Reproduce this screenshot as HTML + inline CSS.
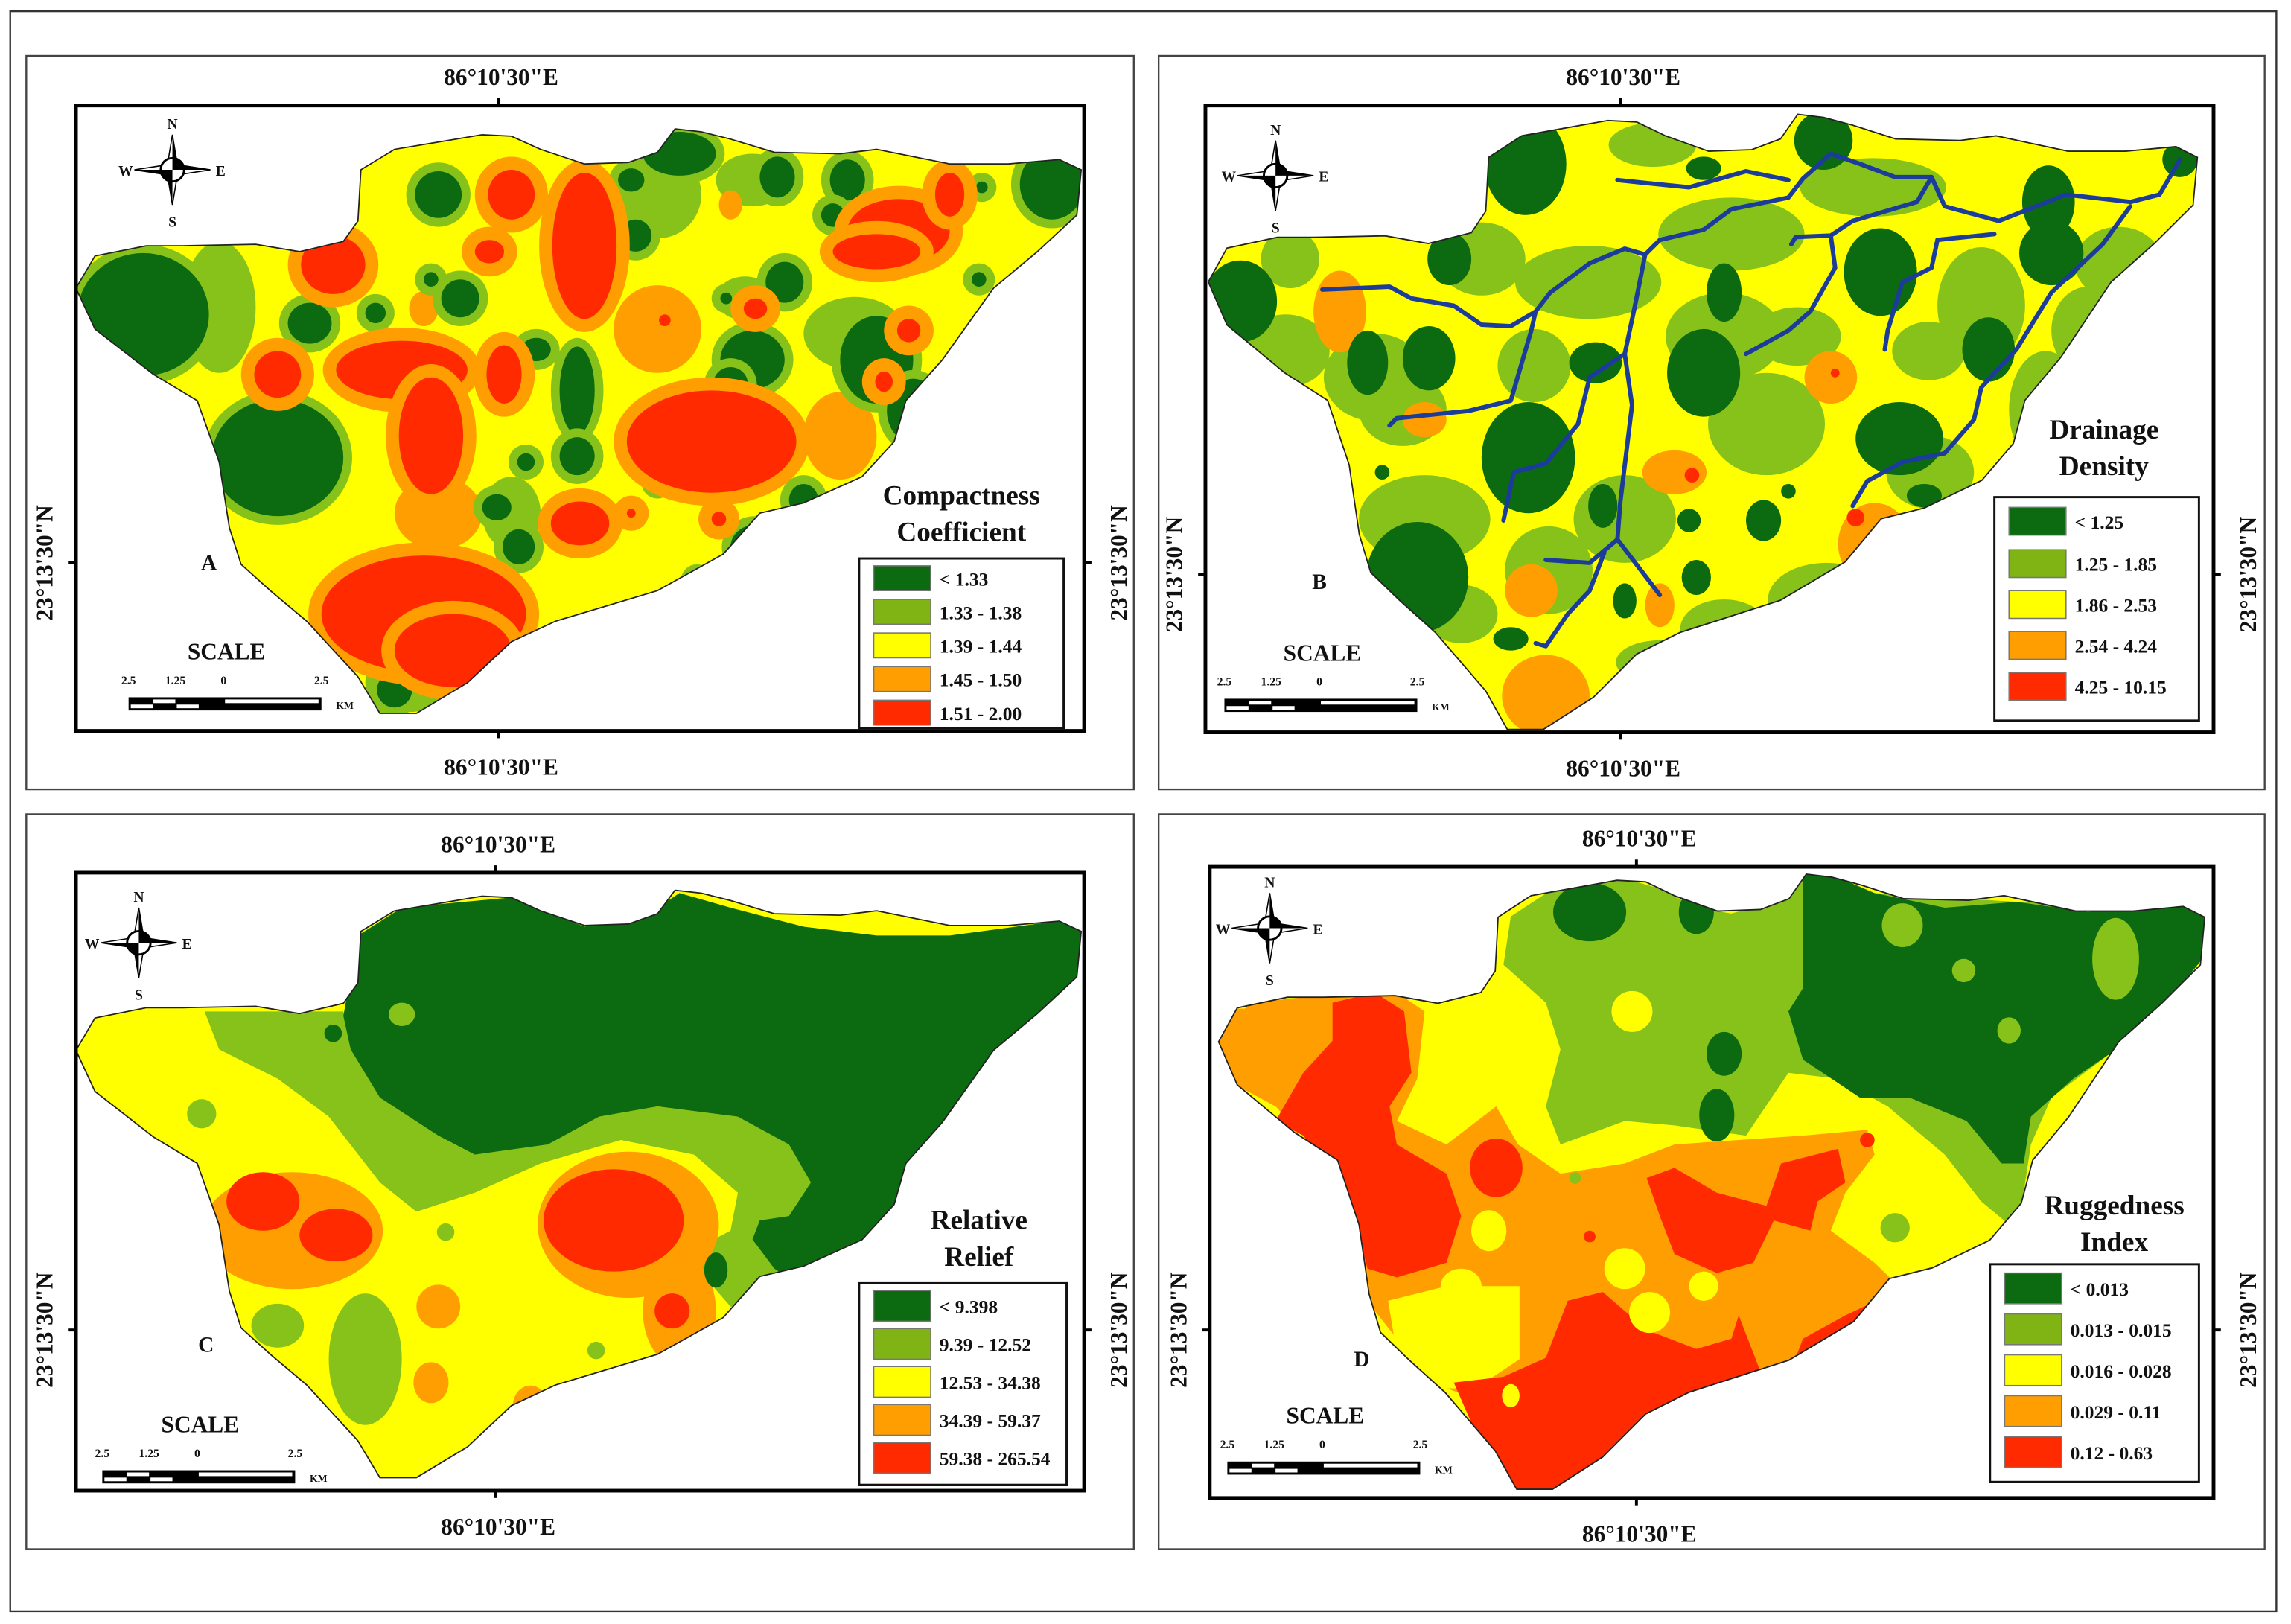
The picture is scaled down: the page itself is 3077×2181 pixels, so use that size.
<!DOCTYPE html>
<html><head><meta charset="utf-8"><style>
html,body{margin:0;padding:0;background:#fff;}
svg{display:block;}
text{font-family:"Liberation Serif",serif;font-weight:bold;fill:#111;}
</style></head><body>
<svg id="fig" width="3077" height="2181" viewBox="0 0 1568 1111" xmlns="http://www.w3.org/2000/svg">
<rect x="0" y="0" width="1568" height="1111" fill="#fff"/>
<rect x="7" y="7.5" width="1551" height="1095" fill="none" stroke="#333" stroke-width="1.2"/>
<defs>
<path id="basin" d="M52,197 L65,175 L100,168 L125,168 L175,167 L205,172 L235,165 L245,151 L247,116 L270,102 L300,97 L330,92 L350,93 L370,102 L400,112 L430,111 L450,104 L462,88 L480,90 L500,95 L530,104 L575,105 L600,102 L625,107 L650,112 L690,112 L725,109 L740,116 L737,147 L710,172 L680,197 L665,218 L645,246 L620,274 L612,302 L590,326 L550,344 L520,351 L495,379 L450,404 L380,425 L350,439 L320,467 L285,488 L260,488 L245,463 L210,425 L185,404 L165,386 L157,361 L150,316 L135,274 L105,256 L65,225 Z"/>
<clipPath id="clipA"><use href="#basin"/></clipPath>
<clipPath id="clipB"><use href="#basin" transform="translate(775.8,-14.6) scale(0.984,1.0525)"/></clipPath>
<clipPath id="clipC"><use href="#basin" transform="translate(0,520.6) scale(1,1.005)"/></clipPath>
<clipPath id="clipD"><use href="#basin" transform="translate(783,505.4) scale(0.981,1.0525)"/></clipPath>
</defs>
<g id="panels"></g>
</svg>
<script>
const NS='http://www.w3.org/2000/svg';
const C={G:'#0c6a10',L:'#86c21a',Y:'#ffff00',O:'#ff9e00',R:'#ff2a00'};
const legendColors=['#0c6a10','#7fb414','#ffff00','#ff9e00','#ff2a00'];
const legendA=['< 1.33','1.33 - 1.38','1.39 - 1.44','1.45 - 1.50','1.51 - 2.00'];
const legendB=['< 1.25','1.25 - 1.85','1.86 - 2.53','2.54 - 4.24','4.25 - 10.15'];
const legendC=['< 9.398','9.39 - 12.52','12.53 - 34.38','34.39 - 59.37','59.38 - 265.54'];
const legendD=['< 0.013','0.013 - 0.015','0.016 - 0.028','0.029 - 0.11','0.12 - 0.63'];

const blobsA=[
['L',150,210,25,45],['L',450,133,30,30],['L',515,123,25,18],['L',585,228,35,25],['L',550,380,25,20],['L',350,351,20,25],['L',280,467,30,20],['L',510,204,20,15],
['O',300,351,30,25],['O',575,298,25,30],['O',500,140,8,10],['O',290,211,10,12],['O',450,225,30,30],
['G',98,215,45,42],['G',190,313,45,40],['G',300,133,16,16],['G',315,204,13,13],['G',212,221,15,14],['G',257,214,7,7],['G',295,191,5,5],['G',432,123,9,8],['G',435,161,11,11],['G',465,105,25,15],['G',532,121,12,14],['G',580,123,12,14],['G',570,147,8,8],['G',720,126,22,24],['G',537,193,13,14],['G',515,246,22,20],['G',500,263,12,12],['G',600,246,25,30],['G',625,281,18,22],['G',367,239,10,8],['G',395,267,12,30],['G',395,312,12,13],['G',360,316,6,6],['G',340,347,10,9],['G',355,374,11,12],['G',550,342,10,11],['G',517,374,17,15],['G',477,397,5,5],['G',297,426,5,5],['G',270,472,12,12],['G',450,330,5,5],['G',670,191,5,5],['G',672,128,4,4],['G',497,204,4,4],
['R',228,181,22,20],['R',190,256,16,16],['R',350,133,16,17],['R',335,172,10,8],['R',400,168,22,50],['R',275,253,45,20],['R',295,298,22,40],['R',345,256,12,20],['R',487,302,58,35],['R',397,358,20,15],['R',615,158,35,22],['R',600,172,30,12],['R',650,133,10,15],['R',517,211,8,7],['R',622,226,8,8],['R',605,261,6,7],['R',455,219,4,4],['R',492,355,5,5],['R',432,351,3,3],['R',290,420,70,40],['R',310,445,40,25]
];
const blobsB=[
['L',1180,230,40,30],['L',960,280,30,25],['L',1050,250,25,25],['L',1250,410,40,25],['L',1400,280,25,40],['L',1060,390,30,30],['L',1450,180,30,25],['L',880,240,30,25],['L',1180,430,30,20],['L',1320,240,25,20],
['L',1087,193,50,25],['L',1185,160,50,25],['L',1282,128,50,20],['L',1209,290,40,35],['L',975,355,45,30],['L',1112,355,35,30],['L',1356,209,30,40],['L',1429,226,25,30],['L',941,258,35,30],['L',1136,453,30,15],['L',1014,177,30,25],['L',1131,99,30,15],['L',883,177,20,20],['L',1321,323,30,25],['L',1230,230,30,20],['L',1000,420,25,20],
['O',917,213,18,28],['O',1058,476,30,28],['O',1146,323,22,15],['O',1253,258,18,18],['O',1283,372,25,28],['O',975,287,15,12],['O',1048,404,18,18],['O',1136,414,10,15],
['G',849,206,25,28],['G',1044,112,28,35],['G',992,177,15,18],['G',936,248,14,22],['G',978,245,18,22],['G',1046,313,32,38],['G',1092,248,18,14],['G',1166,115,12,8],['G',1248,96,20,20],['G',1180,200,12,20],['G',1166,255,25,30],['G',1287,186,25,30],['G',1402,138,18,25],['G',1404,173,22,22],['G',1361,239,18,22],['G',1300,300,30,25],['G',1317,339,12,8],['G',970,395,35,38],['G',1207,356,12,14],['G',1156,356,8,8],['G',1097,346,10,15],['G',1161,395,10,12],['G',1112,411,8,12],['G',1034,437,12,8],['G',1492,109,12,12],['G',946,323,5,5],['G',1224,336,5,5],
['R',1158,325,5,5],['R',1270,354,6,6],['R',1312,370,10,7],['R',1256,255,3,3]
];
const blobsC=[
['L',250,930,25,45],['L',190,907,18,15],['L',138,762,10,10],['L',275,694,9,8],['L',408,924,6,6],['L',305,843,6,6],
['O',200,842,62,40],['O',430,838,62,50],['O',465,897,25,38],['O',300,894,15,15],['O',295,946,12,14],['O',363,962,12,14],
['G',228,707,6,6],['G',490,869,8,12],
['R',180,822,25,20],['R',230,845,25,18],['R',420,835,48,35],['R',460,897,12,12]
];
const blobsD=[
['G',1088,624,25,20],['G',1161,624,12,15],['G',1180,721,12,15],['G',1175,763,12,18],
['L',1302,633,14,15],['L',1448,656,16,28],['L',1344,664,8,8],['L',1375,705,8,9],['L',1297,840,10,10],['L',1078,806,4,4],
['Y',1117,692,14,14]
];
const polysC=[
['L',[[140,692],[235,692],[240,718],[260,751],[300,777],[325,790],[375,783],[410,764],[450,757],[505,764],[540,773],[555,799],[560,832],[550,868],[530,897],[500,894],[480,871],[475,855],[500,842],[505,816],[475,790],[425,780],[370,796],[325,816],[285,829],[260,809],[225,764],[190,738],[150,718]]],
['G',[[235,695],[245,640],[275,621],[350,614],[400,634],[450,621],[465,611],[500,621],[550,634],[600,640],[650,640],[725,630],[760,647],[720,686],[690,718],[665,757],[630,809],[610,848],[570,874],[550,881],[530,868],[515,848],[520,835],[540,832],[555,809],[540,783],[505,764],[450,757],[410,764],[375,783],[325,790],[300,777],[260,751],[240,718]]]
];
const polysD=[
['O',[[834,702],[858,686],[922,679],[956,679],[975,692],[970,738],[956,767],[990,783],[1024,757],[1039,783],[1068,803],[1112,796],[1146,783],[1234,777],[1278,773],[1283,790],[1263,816],[1253,842],[1283,864],[1317,897],[1302,913],[1258,936],[1209,949],[1161,962],[1088,972],[1014,959],[980,946],[941,897],[931,864],[917,816],[892,777],[873,757],[849,744],[820,720]]],
['L',[[1034,627],[1063,608],[1112,601],[1136,608],[1161,621],[1185,625],[1224,614],[1234,598],[1283,611],[1380,617],[1520,621],[1520,640],[1497,669],[1468,702],[1444,721],[1404,751],[1390,783],[1385,816],[1380,842],[1356,822],[1331,790],[1292,757],[1258,738],[1224,734],[1195,777],[1146,770],[1112,767],[1068,783],[1058,757],[1068,718],[1058,686],[1029,660]]],
['G',[[1234,590],[1283,611],[1331,621],[1380,617],[1429,624],[1520,615],[1520,640],[1497,669],[1468,702],[1444,721],[1419,738],[1390,764],[1385,796],[1370,796],[1346,767],[1307,751],[1273,751],[1234,725],[1224,692],[1234,676],[1234,637]]],
['Y',[[950,890],[990,880],[1040,880],[1040,930],[1010,950],[980,950],[955,920]]],
['R',[[912,686],[941,679],[961,692],[966,734],[951,757],[956,783],[990,803],[1000,832],[990,864],[956,874],[936,868],[922,816],[892,777],[873,767],[892,734],[912,712]]],
['R',[[1127,806],[1146,799],[1175,816],[1209,825],[1219,796],[1258,786],[1263,809],[1244,822],[1239,842],[1214,835],[1200,864],[1175,871],[1146,858],[1136,832]]],
['R',[[995,946],[1029,942],[1058,929],[1073,890],[1097,884],[1127,910],[1161,923],[1185,916],[1190,900],[1209,949],[1224,942],[1234,916],[1263,900],[1297,884],[1312,897],[1302,913],[1258,936],[1214,949],[1166,959],[1136,978],[1097,1025],[1049,1025],[1024,1010],[1009,978]]]
];
const blobsD2=[
['Y',1019,842,12,14],['Y',1112,868,14,14],['Y',1129,898,14,14],['Y',1166,880,10,10],['Y',1000,880,14,12],['Y',1034,955,6,8],
['R',1024,799,18,20],['R',1278,780,5,5],['R',1088,846,4,4],['O',850,715,30,25]
];
const riversB=[
[[905,198],[951,196],[966,204],[995,209],[1014,222],[1034,223],[1051,213],[1061,200],[1088,180],[1112,170],[1126,174],[1136,164],[1166,157],[1185,143],[1224,135],[1234,122],[1253,105],[1273,112],[1297,121],[1322,121],[1331,141],[1368,151],[1414,133],[1458,138],[1478,133],[1492,109]],
[[1107,123],[1126,125],[1156,128],[1195,117],[1224,123]],
[[1322,121],[1312,138],[1268,151],[1253,161],[1229,162],[1226,167]],
[[1253,161],[1256,183],[1239,213],[1224,226],[1195,242]],
[[1365,160],[1326,164],[1322,183],[1302,193],[1292,226],[1290,239]],
[[1458,141],[1439,167],[1404,200],[1380,239],[1356,265],[1351,287],[1331,310],[1302,316],[1278,329],[1268,346]],
[[1126,174],[1119,209],[1112,242],[1117,277],[1109,343],[1107,369],[1088,385],[1058,383]],
[[1107,369],[1136,407]],
[[1098,378],[1088,404],[1073,420],[1058,442],[1051,440]],
[[1112,242],[1088,258],[1080,290],[1058,317],[1036,323],[1029,356]],
[[1051,213],[1048,226],[1034,274],[1005,281],[956,286],[951,291]]
];

const root=document.getElementById('panels');
function mk(tag,attrs,parent){const e=document.createElementNS(NS,tag);for(const k in attrs)e.setAttribute(k,attrs[k]);parent.appendChild(e);return e;}
function ell(g,cx,cy,rx,ry,fill){
  const e=mk('ellipse',{cx:cx,cy:cy,rx:rx,ry:ry,fill:fill},g);
  
  
}
function poly(g,pts,fill){
  const e=mk('polygon',{points:pts.map(p=>p.join(',')).join(' '),fill:fill},g);
  
  
}
function drawBlobs(g,list,halo){
  list.forEach(b=>{
    const [t,cx,cy,rx,ry]=b;
    if(halo&&t==='G')ell(g,cx,cy,rx+6,ry+6,C.L);
    if(halo&&t==='R')ell(g,cx,cy,rx+9,ry+9,C.O);
    ell(g,cx,cy,rx,ry,C[t]);
  });
}
function txt(p,x,y,s,size,name,extra){
  const t=mk('text',Object.assign({x:x,y:y,'font-size':size,'text-anchor':'middle'},extra||{}),p);
  t.textContent=s;
  
  
  return t;
}
function compass(p,cx,cy){
  const g=mk('g',{},p);
  
  
  mk('polygon',{points:`${cx},${cy-24} ${cx+4},${cy} ${cx-4},${cy}`,fill:'#fff',stroke:'#000','stroke-width':0.8},g);
  mk('polygon',{points:`${cx},${cy-24} ${cx+4},${cy} ${cx},${cy}`,fill:'#000'},g);
  mk('polygon',{points:`${cx},${cy+24} ${cx+4},${cy} ${cx-4},${cy}`,fill:'#fff',stroke:'#000','stroke-width':0.8},g);
  mk('polygon',{points:`${cx},${cy+24} ${cx-4},${cy} ${cx},${cy}`,fill:'#000'},g);
  mk('polygon',{points:`${cx-26},${cy} ${cx},${cy-4} ${cx},${cy+4}`,fill:'#fff',stroke:'#000','stroke-width':0.8},g);
  mk('polygon',{points:`${cx-26},${cy} ${cx},${cy+4} ${cx},${cy}`,fill:'#000'},g);
  mk('polygon',{points:`${cx+26},${cy} ${cx},${cy-4} ${cx},${cy+4}`,fill:'#fff',stroke:'#000','stroke-width':0.8},g);
  mk('polygon',{points:`${cx+26},${cy} ${cx},${cy-4} ${cx},${cy}`,fill:'#000'},g);
  mk('circle',{cx:cx,cy:cy,r:8,fill:'#fff',stroke:'#000','stroke-width':1.5},g);
  mk('path',{d:`M${cx},${cy} L${cx+8},${cy} A8,8 0 0 0 ${cx},${cy-8} Z M${cx},${cy} L${cx-8},${cy} A8,8 0 0 0 ${cx},${cy+8} Z`,fill:'#000'},g);
  txt(g,cx,cy-28,'N',10,'compass-n');
  txt(g,cx,cy+39,'S',10,'compass-s');
  txt(g,cx-32,cy+4,'W',10,'compass-w');
  txt(g,cx+33,cy+4,'E',10,'compass-e');
}
function scalebar(p,x,y){
  const g=mk('g',{},p);
  
  
  txt(g,x+67,y-27,'SCALE',16,'scale-title');
  txt(g,x,y-10,'2.5',8,'scale-tick-label');
  txt(g,x+32,y-10,'1.25',8,'scale-tick-label');
  txt(g,x+65,y-10,'0',8,'scale-tick-label');
  txt(g,x+132,y-10,'2.5',8,'scale-tick-label');
  txt(g,x+142,y+7,'KM',7,'scale-unit',{'text-anchor':'start'});
  mk('rect',{x:x,y:y-1,width:132,height:9,fill:'#000'},g);
  mk('rect',{x:x+1.5,y:y+4,width:15,height:2.5,fill:'#fff'},g);
  mk('rect',{x:x+17,y:y+0.5,width:15,height:2.5,fill:'#fff'},g);
  mk('rect',{x:x+33,y:y+4,width:15,height:2.5,fill:'#fff'},g);
  mk('rect',{x:x+66,y:y+0.5,width:64,height:2.5,fill:'#fff'},g);
}
function legend(p,x,y,w,h,rowY,rowH,labels,title1,title2,tx,ty){
  const g=mk('g',{},p);
  
  
  txt(g,tx,ty,title1,19,'legend-title');
  txt(g,tx,ty+25,title2,19,'legend-title');
  mk('rect',{x:x,y:y,width:w,height:h,fill:'#fff',stroke:'#111','stroke-width':1.5},g);
  labels.forEach((lab,i)=>{
    const r=mk('rect',{x:x+10,y:rowY[i],width:39,height:rowH,fill:legendColors[i],stroke:'#777','stroke-width':0.8},g);
    
    
    txt(g,x+55,rowY[i]+rowH*0.5+5,lab,13,'legend-entry',{'text-anchor':'start'});
  });
}
function panel(cfg){
  const g=mk('g',{},root);
  
  
  mk('rect',{x:cfg.outer[0],y:cfg.outer[1],width:cfg.outer[2],height:cfg.outer[3],fill:'#fff',stroke:'#444','stroke-width':1.2},g);
  const f=cfg.frame;
  const m=mk('g',{'clip-path':'url(#'+cfg.clip+')'},g);
  
  
  mk('rect',{x:f[0],y:f[1],width:f[2],height:f[3],fill:cfg.base},m);
  cfg.draw(m);
  const ol=mk('use',{href:'#basin',transform:cfg.tf,fill:'none',stroke:'#222','stroke-width':0.9},g);
  
  
  if(cfg.rivers){
    cfg.rivers.forEach(r=>{
      const pl=mk('polyline',{points:r.map(p=>p.join(',')).join(' '),fill:'none',stroke:'#1b3c9a','stroke-width':3,'stroke-linejoin':'round','stroke-linecap':'round'},g);
      
      
    });
  }
  const fr=mk('rect',{x:f[0],y:f[1],width:f[2],height:f[3],fill:'none',stroke:'#000','stroke-width':2.5},g);
  
  
  const mx=f[0]+cfg.lonX, my=cfg.latY;
  mk('line',{x1:mx,y1:f[1]-5,x2:mx,y2:f[1],stroke:'#000','stroke-width':2},g);
  mk('line',{x1:mx,y1:f[1]+f[3],x2:mx,y2:f[1]+f[3]+5,stroke:'#000','stroke-width':2},g);
  mk('line',{x1:f[0]-5,y1:my,x2:f[0],y2:my,stroke:'#000','stroke-width':2},g);
  mk('line',{x1:f[0]+f[2],y1:my,x2:f[0]+f[2]+5,y2:my,stroke:'#000','stroke-width':2},g);
  txt(g,mx+2,f[1]-14,'86°10\'30"E',16,'longitude-label-top');
  txt(g,mx+2,f[1]+f[3]+30,'86°10\'30"E',16,'longitude-label-bottom');
  txt(g,0,0,'23°13\'30"N',16,'latitude-label-left',{transform:`translate(${f[0]-16},${my}) rotate(-90)`});
  txt(g,0,0,'23°13\'30"N',16,'latitude-label-right',{transform:`translate(${f[0]+f[2]+29},${my}) rotate(-90)`});
  compass(g,cfg.comp[0],cfg.comp[1]);
  txt(g,cfg.letter[0],cfg.letter[1],cfg.letter[2],15,'panel-letter');
  scalebar(g,cfg.scale[0],cfg.scale[1]);
  const L=cfg.leg;
  legend(g,L[0],L[1],L[2],L[3],L[4],L[5],cfg.labels,cfg.t1,cfg.t2,L[6],L[7]);
}

panel({name:'panel-a-compactness',outer:[18,38,758,502],frame:[52,72,690,428],clip:'clipA',tf:'',base:C.Y,lonX:289,latY:385,
  comp:[118,116],letter:[143,390,'A'],scale:[88,478],
  leg:[588,382,140,116,[387,410,433,456,479],17,658,345],labels:legendA,t1:'Compactness',t2:'Coefficient',
  draw:m=>drawBlobs(m,blobsA,true)});
panel({name:'panel-b-drainage-density',outer:[793,38,757,502],frame:[825,72,690,429],clip:'clipB',tf:'translate(775.8,-14.6) scale(0.984,1.0525)',base:C.Y,lonX:284,latY:393,
  comp:[873,120],letter:[903,403,'B'],scale:[838,479],
  leg:[1365,340,140,153,[347,376,404,432,460],19,1440,300],labels:legendB,t1:'Drainage',t2:'Density',rivers:riversB,
  draw:m=>drawBlobs(m,blobsB,false)});
panel({name:'panel-c-relative-relief',outer:[18,557,758,503],frame:[52,597,690,423],clip:'clipC',tf:'translate(0,520.6) scale(1,1.005)',base:C.Y,lonX:287,latY:910,
  comp:[95,645],letter:[141,925,'C'],scale:[70,1007],
  leg:[588,878,142,138,[883,909,935,961,987],21,670,841],labels:legendC,t1:'Relative',t2:'Relief',
  draw:m=>{polysC.forEach(p=>poly(m,p[1],C[p[0]]));drawBlobs(m,blobsC,false);}});
panel({name:'panel-d-ruggedness-index',outer:[793,557,757,503],frame:[828,593,687,432],clip:'clipD',tf:'translate(783,505.4) scale(0.981,1.0525)',base:C.Y,lonX:292,latY:910,
  comp:[869,635],letter:[932,935,'D'],scale:[840,1001],
  leg:[1362,865,143,149,[871,899,927,955,983],21,1447,831],labels:legendD,t1:'Ruggedness',t2:'Index',
  draw:m=>{polysD.forEach(p=>poly(m,p[1],C[p[0]]));drawBlobs(m,blobsD,false);drawBlobs(m,blobsD2,false);}});
</script>
</body></html>
